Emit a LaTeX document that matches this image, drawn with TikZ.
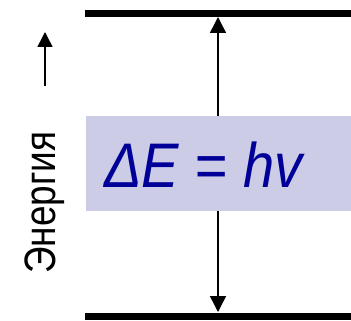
\documentclass[tikz,border=0pt]{standalone}
\usepackage{fontspec}
\setmainfont{Liberation Sans}
\usetikzlibrary{arrows.meta}
\definecolor{gapfill}{RGB}{204,204,230}
\definecolor{formula}{RGB}{0,0,153}
\tikzset{
  level/.style={line width=7pt},
  transition/.style={line width=1.5pt,{Triangle[width=16pt,length=16pt]}-{Triangle[width=16pt,length=16pt]}},
  axisarrow/.style={line width=1.5pt,-{Triangle[width=15pt,length=15pt]}}
}

\begin{document}
\begin{tikzpicture}[x=1pt,y=-1pt]
      \useasboundingbox (0,0) rectangle (351,321);
      \coordinate (upL) at (85,13.5); \coordinate (upR) at (351,13.5);
      \coordinate (loL) at (85,316.5); \coordinate (loR) at (351,316.5);
      \coordinate (upper) at (218,17); \coordinate (lower) at (218,312);
      \draw[level] (upL) -- (upR);
      \draw[level] (loL) -- (loR);
      \draw[transition] (upper) -- (lower);
      \node[fill=gapfill, minimum width=265pt, minimum height=95pt, inner sep=0pt, anchor=north west] (gap) at (86,116) {};
      \node[font=\fontsize{63}{63}\selectfont\itshape, text=formula, xscale=0.89, inner sep=0pt, anchor=base west] (dE) at (104,187) {ΔE = hv};
      \node[font=\fontsize{44}{44}\selectfont, rotate=90, xscale=0.84, inner sep=0pt, anchor=base west] (energy) at (55,274) {Энергия};
      \coordinate (axisfrom) at (45,86); \coordinate (axisto) at (45,32);
      \draw[axisarrow] (axisfrom) -- (axisto);
    \end{tikzpicture}
\end{document}
